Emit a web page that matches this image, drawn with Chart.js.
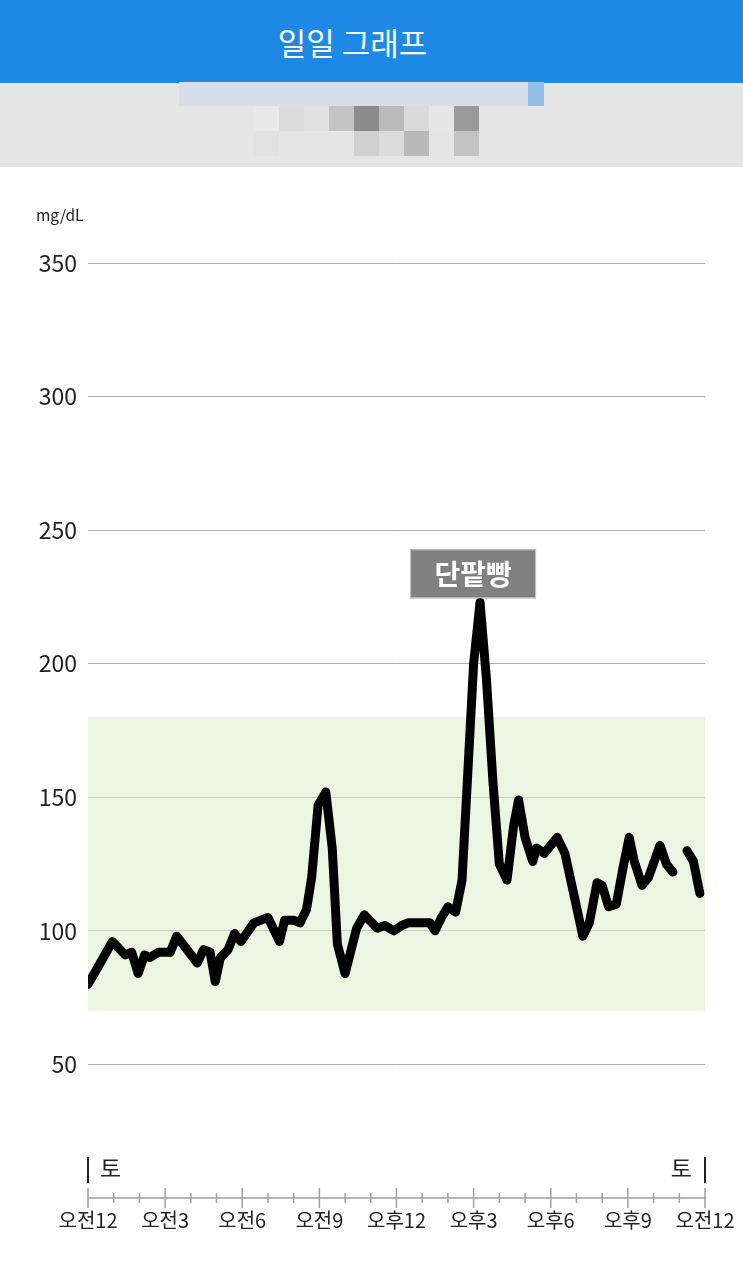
<!DOCTYPE html>
<html>
<head>
<meta charset="utf-8">
<script src="https://cdn.jsdelivr.net/npm/chart.js@4"></script>
<style>
  body { margin: 0; width: 743px; height: 1286px; background: #fff; position: relative; overflow: hidden;
         font-family: "Noto Sans CJK KR", "Noto Sans", sans-serif; }
  .header { position: absolute; left: 0; top: 0; width: 743px; height: 83px; background: #1e89e4;
            color: #fff; font-size: 31px; text-align: center; line-height: 83px; }
  .header span { position: relative; left: -19px; }
  .band { position: absolute; left: 0; top: 83px; width: 743px; height: 84px; background: #e5e5e5; }
  .blk { position: absolute; }
  #wrap { position: absolute; left: 0; top: 167px; width: 743px; height: 1119px; }
</style>
</head>
<body>
<div class="header"><span>일일 그래프</span></div>
<div class="band"></div>
<div id="blur"></div>
<div id="wrap"><canvas id="dailyChart"></canvas></div>
<script>
// blurred area under the header
const blurRows = [
  ["#e8e8e8", "#dcdcdc", "#e0e0e0", "#c4c4c4", "#8c8c8c", "#bababa", "#dadada", "#e6e6e6", "#9a9a9a"],
  ["#e2e2e2", "#e5e5e5", "#e5e5e5", "#e5e5e5", "#d0d0d0", "#dcdcdc", "#b9b9b9", "#e5e5e5", "#c3c3c3"],
];
const blur = document.getElementById("blur");
blur.innerHTML =
  '<div class="blk" style="left:179px;top:82px;width:349px;height:24px;background:#d6dfe9"></div>' +
  '<div class="blk" style="left:528px;top:82px;width:16px;height:24px;background:#94c0e8"></div>';
blurRows.forEach((row, r) => {
  row.forEach((c, i) => {
    blur.innerHTML += '<div class="blk" style="left:' + (254 + i * 25) + 'px;top:' + (106 + r * 25) +
      'px;width:25px;height:25px;background:' + c + '"></div>';
  });
});

// time of day (hours from midnight) and glucose readings (mg/dL)
const hours = [0, 0.3, 0.95, 1.45, 1.7, 1.95, 2.2, 2.4, 2.75, 3.2, 3.45, 3.85, 4.25, 4.5, 4.75,
  4.95, 5.15, 5.45, 5.7, 5.95, 6.45, 7.0, 7.45, 7.65, 8.0, 8.25, 8.5, 8.7, 8.95, 9.25,
  9.5, 9.7, 10.0, 10.45, 10.75, 11.25, 11.55, 11.9, 12.2, 12.45, 13.3, 13.5, 13.75, 14.0, 14.3,
  14.55, 15.0, 15.25, 15.5, 15.75, 16.0, 16.3, 16.55, 16.75, 17.0, 17.3, 17.45, 17.75, 18.25, 18.55,
  18.8, 19.25, 19.5, 19.8, 20.0, 20.25, 20.55, 20.8, 21.05, 21.25, 21.55, 21.8, 22.25, 22.5, 22.75,
  23.0, 23.3, 23.55, 23.8];
const glucose = [80, 85, 96, 91, 92, 84, 91, 90, 92, 92, 98, 93, 88, 93, 92,
  81, 90, 93, 99, 96, 103, 105, 96, 104, 104, 103, 108, 120, 147, 152,
  131, 95, 84, 101, 106, 101, 102, 100, 102, 103, 103, 100, 105, 109, 107,
  119, 200, 223, 194, 156, 125, 119, 139, 149, 135, 126, 131, 129, 135, 129,
  118, 98, 103, 118, 117, 109, 110, 123, 135, 126, 117, 120, 132, 125, 122,
  null, 130, 126, 114];
const hourLabels = ["오전12", "오전3", "오전6", "오전9", "오후12", "오후3", "오후6", "오후9", "오전12"];
const targetRange = [70, 180];
const yTicks = [50, 100, 150, 200, 250, 300, 350];
const dayLabel = "토";
const mealNote = "단팥빵";

const FONT = '"Noto Sans CJK KR", "Noto Sans", sans-serif';

const decor = {
  id: "decor",
  beforeDatasetsDraw(chart) {
    const { ctx, chartArea: a, scales } = chart;
    const y1 = scales.y.getPixelForValue(targetRange[1]);
    const y0 = scales.y.getPixelForValue(targetRange[0]);
    ctx.save();
    ctx.fillStyle = "rgba(219,237,201,0.55)";
    ctx.fillRect(a.left, y1, a.right - a.left, y0 - y1);
    ctx.restore();
  },
  afterDatasetsDraw(chart) {
    const { ctx, chartArea: a, scales } = chart;
    const base = scales.y.getPixelForValue(0);
    ctx.save();
    // axis line + hour ticks
    ctx.strokeStyle = "#a0a0a0";
    ctx.lineWidth = 1.5;
    ctx.beginPath();
    ctx.moveTo(a.left, base);
    ctx.lineTo(a.right, base);
    for (let h = 0; h <= 24; h++) {
      const x = scales.x.getPixelForValue(h);
      const len = h % 3 === 0 ? 10 : 5;
      ctx.moveTo(x, base - len);
      ctx.lineTo(x, base + len);
    }
    ctx.stroke();
    // day markers
    ctx.strokeStyle = "#222";
    ctx.lineWidth = 2;
    ctx.beginPath();
    ctx.moveTo(a.left, base - 41);
    ctx.lineTo(a.left, base - 15);
    ctx.moveTo(a.right, base - 41);
    ctx.lineTo(a.right, base - 15);
    ctx.stroke();
    ctx.fillStyle = "#222";
    ctx.font = "23px " + FONT;
    ctx.textBaseline = "middle";
    ctx.textAlign = "left";
    ctx.fillText(dayLabel, a.left + 12, base - 30);
    ctx.textAlign = "right";
    ctx.fillText(dayLabel, a.right - 13, base - 30);
    // unit label
    ctx.font = "15.5px " + FONT;
    ctx.textAlign = "left";
    ctx.fillText("mg/dL", 36, a.top - 48);
    // note on the peak
    const vals = glucose.map(v => (v === null ? -1 : v));
    const pk = vals.indexOf(Math.max(...vals));
    const pt = chart.getDatasetMeta(0).data[pk];
    const bx = pt.x - 70, by = pt.y - 53;
    ctx.fillStyle = "#808080";
    ctx.fillRect(bx, by, 126, 49);
    ctx.strokeStyle = "#c8c8c8";
    ctx.lineWidth = 1;
    ctx.strokeRect(bx + 0.5, by + 0.5, 125, 48);
    ctx.fillStyle = "#fff";
    ctx.font = "bold 28px " + FONT;
    ctx.textAlign = "center";
    ctx.fillText(mealNote, bx + 63, by + 25);
    ctx.restore();
  },
};

new Chart(document.getElementById("dailyChart"), {
  type: "line",
  data: {
    datasets: [
      {
        data: hours.map((h, i) => ({ x: h, y: glucose[i] })),
        borderColor: "#000",
        borderWidth: 9,
        borderJoinStyle: "round",
        borderCapStyle: "round",
        pointRadius: 0,
        tension: 0,
        spanGaps: false,
      },
    ],
  },
  options: {
    responsive: true,
    maintainAspectRatio: false,
    animation: false,
    layout: { padding: { top: 96, right: 38, left: 0, bottom: 0 } },
    plugins: { legend: { display: false }, tooltip: { enabled: false } },
    scales: {
      x: {
        type: "linear",
        min: 0,
        max: 24,
        afterBuildTicks(scale) {
          scale.ticks = hourLabels.map((_, i) => ({ value: i * 3 }));
        },
        afterFit(scale) {
          scale.height = 88;
          scale.paddingLeft = 0;
          scale.paddingRight = 0;
        },
        grid: { display: false, drawTicks: false },
        border: { display: false },
        ticks: {
          autoSkip: false,
          maxRotation: 0,
          padding: 10,
          color: "#222",
          font: { family: FONT, size: 20 },
          callback: (v) => hourLabels[v / 3],
        },
      },
      y: {
        min: 0,
        max: 350,
        afterBuildTicks(scale) {
          scale.ticks = yTicks.map(v => ({ value: v }));
        },
        afterFit(scale) {
          scale.width = 88;
          scale.paddingTop = 0;
          scale.paddingBottom = 0;
        },
        grid: { color: "#b0b0b0", lineWidth: 1, drawTicks: false },
        border: { display: false },
        ticks: {
          padding: 11,
          color: "#222",
          font: { family: FONT, size: 23 },
        },
      },
    },
  },
  plugins: [decor],
});
</script>
</body>
</html>
